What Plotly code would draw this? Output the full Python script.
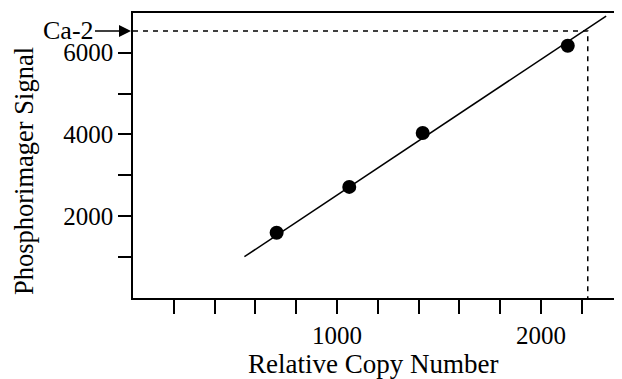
import plotly.graph_objects as go

# Data
copy_number = [704, 1060, 1420, 2131]
signal = [1595, 2717, 4034, 6170]
fit_x = [546, 2319]
fit_y = [1010, 6895]
ca2_x = 2229
ca2_y = 6530

x_tickvals = [200, 400, 600, 800, 1000, 1200, 1400, 1600, 1800, 2000, 2200]
x_ticktext = ["", "", "", "", "1000", "", "", "", "", "2000", ""]
y_tickvals = [1000, 2000, 3000, 4000, 5000, 6000]
y_ticktext = ["", "2000", "", "4000", "", "6000"]

FONT = "Liberation Serif, Times New Roman, serif"

fig = go.Figure()
fig.add_trace(go.Scatter(x=fit_x, y=fit_y, mode="lines",
                         line=dict(color="black", width=1.5), showlegend=False))
fig.add_trace(go.Scatter(x=[0, ca2_x, ca2_x], y=[ca2_y, ca2_y, 0], mode="lines",
                         line=dict(color="black", width=1.5, dash="5px,5px"),
                         showlegend=False))
fig.add_trace(go.Scatter(x=copy_number, y=signal, mode="markers",
                         marker=dict(color="black", size=14), showlegend=False))

fig.add_annotation(x=0, xref="paper", y=ca2_y, yref="y", text="Ca-2",
                   showarrow=True, arrowhead=2, arrowsize=1.5, arrowwidth=1.6,
                   arrowcolor="black", ax=-65, ay=0, standoff=2,
                   font=dict(family=FONT, size=26, color="black"))

# Axis titles as annotations for exact placement
fig.add_annotation(x=-0.2238, y=0.4456, xref="paper", yref="paper",
                   text="Phosphorimager Signal", textangle=-90, showarrow=False,
                   xanchor="center", yanchor="middle",
                   font=dict(family=FONT, size=26.5, color="black"))
fig.add_annotation(x=0.4928, y=-0.232, xref="paper", yref="paper",
                   text="Relative Copy Number", showarrow=False,
                   xanchor="center", yanchor="middle",
                   font=dict(family=FONT, size=27, color="black"))

# The page body has an 8px margin, so the figure is offset by 8px
fig.update_layout(
    width=614, height=371,
    margin=dict(l=125, r=2, t=5, b=81),
    paper_bgcolor="white", plot_bgcolor="white",
    font=dict(family=FONT, size=25, color="black"),
    xaxis=dict(range=[0, 2387], showgrid=False, zeroline=False, automargin=False,
               showline=True, linecolor="black", linewidth=1.5, mirror=True,
               ticks="outside", ticklen=14, tickwidth=1.5, tickcolor="black",
               tickvals=x_tickvals, ticktext=x_ticktext,
               tickfont=dict(family=FONT, size=25, color="black")),
    yaxis=dict(range=[0, 6970], showgrid=False, zeroline=False, automargin=False,
               showline=True, linecolor="black", linewidth=1.5, mirror=True,
               ticks="outside", ticklen=13, tickwidth=1.5, tickcolor="black",
               tickvals=y_tickvals, ticktext=y_ticktext,
               tickfont=dict(family=FONT, size=25, color="black")),
)

fig.write_html("out.html")
